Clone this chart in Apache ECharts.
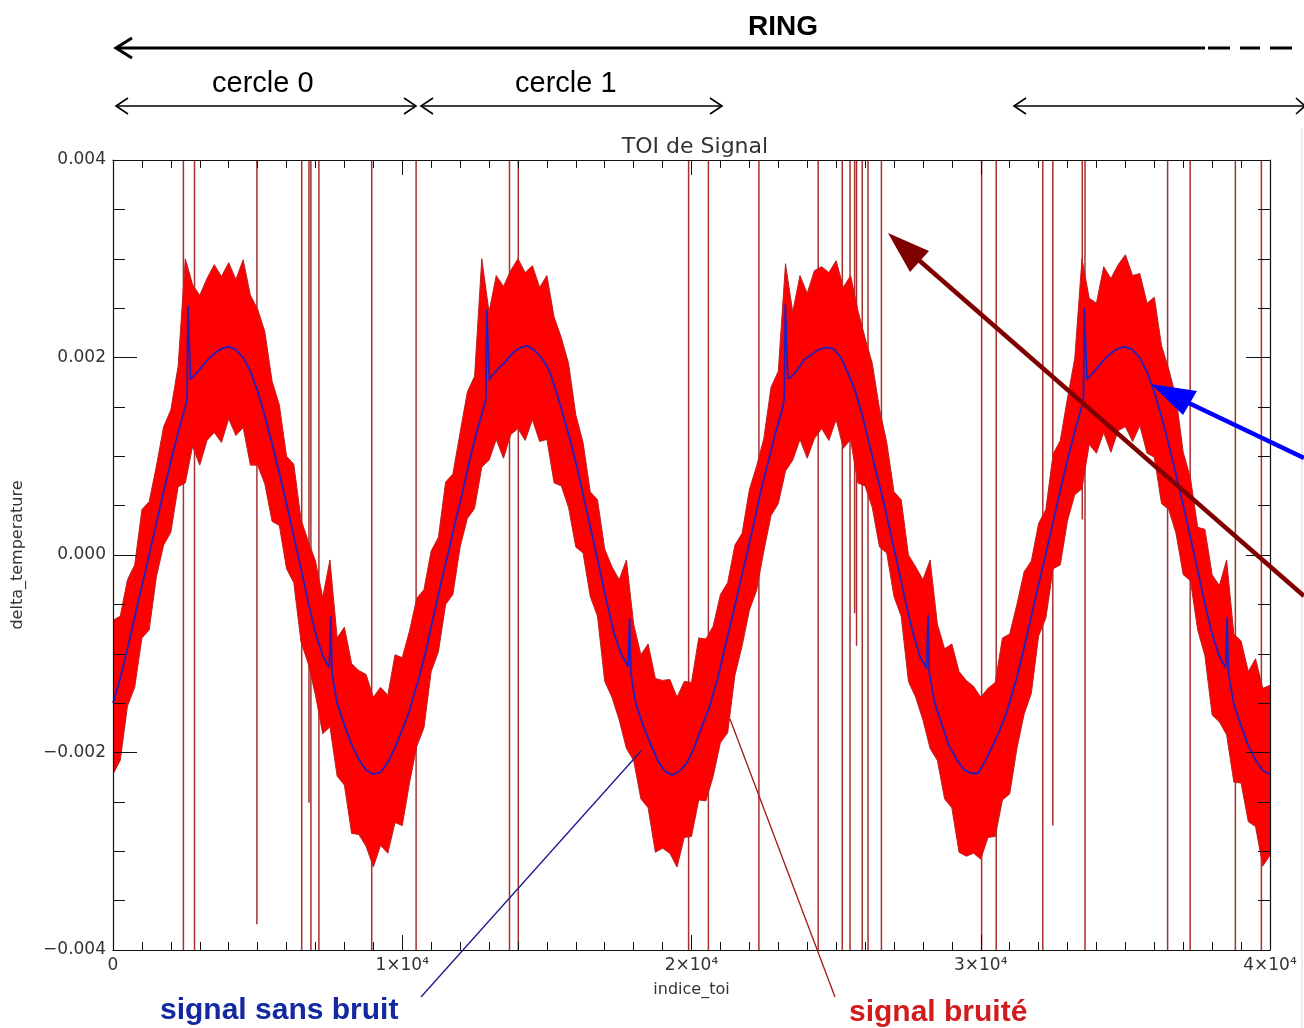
<!DOCTYPE html>
<html>
<head>
<meta charset="utf-8">
<script src="https://cdn.jsdelivr.net/npm/echarts@6/dist/echarts.min.js"></script>
<style>
html,body{margin:0;padding:0;background:#fff;}
#chart{width:1304px;height:1028px;}
</style>
</head>
<body>
<div id="chart"></div>
<script>
// ---------------- data ----------------
const xTickLabels = ['0', '1×10⁴', '2×10⁴', '3×10⁴', '4×10⁴'];
const yTickLabels = ['−0.004', '−0.002', '0.000', '0.002', '0.004'];

// clean signal (signal sans bruit): sample index and value
const cleanIdx = [
  0,250,500,750,1000,1250,1500,1750,2000,2250,2500,2560,2593,2625,2680,2750,3000,3250,3500,3750,4000,4250,4500,4750,5000,5250,5500,5750,6000,6250,6500,6750,7000,7250,7480,7530,7570,7620,7750,8000,8250,8500,8750,9000,9250,9500,9750,10000,10250,
  10330,10580,10830,11080,11330,11580,11830,12080,12330,12580,12830,12890,12923,12955,13010,13080,13330,13580,13830,14080,14330,14580,14830,15080,15330,15580,15830,16080,16330,16580,16830,17080,17330,17580,17810,17860,17900,17950,18080,18330,18580,18830,19080,19330,19580,19830,20080,20330,20580,
  20650,20900,21150,21400,21650,21900,22150,22400,22650,22900,23150,23210,23243,23275,23330,23400,23650,23900,24150,24400,24650,24900,25150,25400,25650,25900,26150,26400,26650,26900,27150,27400,27650,27900,28130,28180,28220,28270,28400,28650,28900,29150,29400,29650,29900,30150,30400,30650,30900,
  30990,31240,31490,31740,31990,32240,32490,32740,32990,33240,33490,33550,33583,33615,33670,33740,33990,34240,34490,34740,34990,35240,35490,35740,35990,36240,36490,36740,36990,37240,37490,37740,37990,38240,38470,38520,38560,38610,38740,38990,39240,39490,39740,39990,40000
];
const cleanVal = [
  -0.00150,-0.00125,-0.00095,-0.00063,-0.00031,0.00000,0.00032,0.00064,0.00095,0.00124,0.00150,0.00158,0.00252,0.00225,0.00178,0.00180,0.00188,0.00197,0.00204,0.00209,0.00211,0.00208,0.00200,0.00186,0.00166,0.00141,0.00113,0.00083,0.00052,0.00019,-0.00014,-0.00048,-0.00079,-0.00102,-0.00114,-0.00062,-0.00118,-0.00128,-0.00150,-0.00172,-0.00192,-0.00207,-0.00218,-0.00222,-0.00220,-0.00210,-0.00195,-0.00177,-0.00158,
  -0.00149,-0.00124,-0.00096,-0.00062,-0.00030,0.00001,0.00033,0.00063,0.00096,0.00125,0.00151,0.00157,0.00248,0.00222,0.00177,0.00181,0.00189,0.00196,0.00205,0.00210,0.00212,0.00207,0.00199,0.00187,0.00165,0.00140,0.00114,0.00084,0.00051,0.00018,-0.00015,-0.00049,-0.00080,-0.00101,-0.00113,-0.00064,-0.00117,-0.00129,-0.00151,-0.00173,-0.00191,-0.00208,-0.00219,-0.00223,-0.00219,-0.00211,-0.00196,-0.00176,-0.00157,
  -0.00151,-0.00126,-0.00094,-0.00064,-0.00032,-0.00001,0.00031,0.00065,0.00094,0.00123,0.00149,0.00159,0.00254,0.00224,0.00179,0.00179,0.00187,0.00198,0.00203,0.00208,0.00210,0.00209,0.00201,0.00185,0.00167,0.00142,0.00112,0.00082,0.00053,0.00020,-0.00013,-0.00047,-0.00078,-0.00103,-0.00115,-0.00061,-0.00119,-0.00127,-0.00149,-0.00171,-0.00193,-0.00206,-0.00217,-0.00221,-0.00221,-0.00209,-0.00194,-0.00178,-0.00159,
  -0.00150,-0.00125,-0.00095,-0.00063,-0.00031,0.00000,0.00032,0.00064,0.00095,0.00124,0.00150,0.00158,0.00250,0.00224,0.00178,0.00180,0.00188,0.00197,0.00204,0.00209,0.00211,0.00208,0.00200,0.00186,0.00166,0.00141,0.00113,0.00083,0.00052,0.00019,-0.00014,-0.00048,-0.00079,-0.00102,-0.00114,-0.00063,-0.00118,-0.00128,-0.00150,-0.00172,-0.00192,-0.00207,-0.00218,-0.00222,-0.00222
];

// noisy signal (signal bruité): envelope of the dense noise, one sample every 250 indices
const noisyStep = 250;
const noisyMax = [
  -0.00066,-0.00062,-0.00025,-0.00010,0.00046,0.00054,0.00090,0.00130,0.00147,0.00191,
  0.00300,0.00274,0.00263,0.00280,0.00294,0.00282,0.00296,0.00279,0.00299,0.00263,
  0.00249,0.00226,0.00176,0.00152,0.00100,0.00092,0.00036,0.00014,-0.00006,-0.00043,
  -0.00005,-0.00084,-0.00073,-0.00110,-0.00117,-0.00121,-0.00144,-0.00134,-0.00142,-0.00101,
  -0.00104,-0.00077,-0.00044,-0.00035,0.00004,0.00018,0.00074,0.00082,0.00124,0.00165,
  0.00181,0.00300,0.00246,0.00283,0.00272,0.00288,0.00300,0.00286,0.00293,0.00271,
  0.00283,0.00241,0.00220,0.00194,0.00142,0.00114,0.00064,0.00056,0.00006,-0.00012,
  -0.00025,-0.00005,-0.00070,-0.00101,-0.00090,-0.00125,-0.00127,-0.00126,-0.00144,-0.00128,
  -0.00129,-0.00084,-0.00085,-0.00072,-0.00040,-0.00028,0.00010,0.00022,0.00066,0.00090,
  0.00118,0.00170,0.00186,0.00295,0.00246,0.00283,0.00265,0.00288,0.00292,0.00286,
  0.00298,0.00271,0.00283,0.00248,0.00220,0.00194,0.00148,0.00114,0.00064,0.00056,
  0.00000,-0.00012,-0.00025,-0.00005,-0.00070,-0.00095,-0.00090,-0.00118,-0.00127,-0.00133,
  -0.00144,-0.00135,-0.00129,-0.00084,-0.00080,-0.00050,-0.00017,-0.00006,0.00032,0.00046,
  0.00102,0.00116,0.00159,0.00199,0.00300,0.00260,0.00255,0.00292,0.00280,0.00294,
  0.00304,0.00283,0.00285,0.00255,0.00261,0.00212,0.00188,0.00160,0.00104,0.00078,
  0.00028,0.00026,-0.00020,-0.00031,-0.00005,-0.00080,-0.00087,-0.00118,-0.00105,-0.00135,
  -0.00132
];
const noisyMin = [
  -0.00222,-0.00208,-0.00153,-0.00134,-0.00084,-0.00076,-0.00022,0.00010,0.00023,0.00069,
  0.00073,0.00110,0.00091,0.00116,0.00124,0.00114,0.00138,0.00121,0.00129,0.00091,
  0.00091,0.00072,0.00034,0.00030,-0.00014,-0.00028,-0.00088,-0.00110,-0.00142,-0.00181,
  -0.00174,-0.00224,-0.00233,-0.00282,-0.00283,-0.00295,-0.00316,-0.00294,-0.00302,-0.00271,
  -0.00274,-0.00231,-0.00194,-0.00175,-0.00118,-0.00098,-0.00050,-0.00040,0.00008,0.00037,
  0.00047,0.00089,0.00096,0.00117,0.00098,0.00122,0.00128,0.00116,0.00137,0.00115,
  0.00117,0.00073,0.00070,0.00048,0.00008,0.00002,-0.00042,-0.00062,-0.00128,-0.00144,
  -0.00167,-0.00196,-0.00208,-0.00247,-0.00256,-0.00301,-0.00297,-0.00302,-0.00316,-0.00286,
  -0.00285,-0.00248,-0.00249,-0.00224,-0.00190,-0.00180,-0.00122,-0.00092,-0.00056,-0.00036,
  0.00004,0.00040,0.00052,0.00085,0.00096,0.00117,0.00098,0.00118,0.00128,0.00116,
  0.00137,0.00108,0.00117,0.00073,0.00070,0.00048,0.00008,0.00002,-0.00042,-0.00062,
  -0.00128,-0.00144,-0.00167,-0.00196,-0.00208,-0.00247,-0.00256,-0.00301,-0.00305,-0.00302,
  -0.00308,-0.00286,-0.00285,-0.00248,-0.00242,-0.00196,-0.00161,-0.00140,-0.00082,-0.00064,
  -0.00014,-0.00010,0.00035,0.00061,0.00067,0.00112,0.00103,0.00124,0.00104,0.00126,
  0.00130,0.00115,0.00131,0.00103,0.00099,0.00052,0.00046,0.00022,-0.00020,-0.00026,
  -0.00076,-0.00102,-0.00162,-0.00169,-0.00182,-0.00230,-0.00231,-0.00270,-0.00275,-0.00315,
  -0.00304
];

// glitches (vertical spikes): index, top value, bottom value
const spikeIdx = [2434,2818,4975,6524,6776,6842,7118,8944,10479,13708,14012,19900,20584,22330,24380,25213,25480,25640,25706,25903,26103,26566,30030,30535,32145,32491,33510,33604,36460,37240,38803,39702];
const spikeTop = [0.004,0.004,0.004,0.004,0.004,0.004,0.004,0.004,0.004,0.004,0.004,0.004,0.004,0.004,0.004,0.004,0.004,0.004,0.004,0.004,0.004,0.004,0.004,0.004,0.004,0.004,0.004,0.004,0.004,0.004,0.004,0.004];
const spikeBottom = [-0.004,-0.004,-0.00374,-0.004,-0.00251,-0.004,-0.004,-0.004,-0.004,-0.004,-0.004,-0.004,-0.004,-0.004,-0.004,-0.004,-0.004,-0.00059,-0.00092,-0.004,-0.004,-0.004,-0.004,-0.004,-0.004,-0.00274,0.00036,-0.004,-0.004,-0.004,-0.004,-0.004];

// ---------------- chart ----------------
const chart = echarts.init(document.getElementById('chart'), null, {renderer: 'canvas'});

const cleanData = cleanIdx.map((x, i) => [x, cleanVal[i]]);
const spikeData = spikeIdx.map((x, i) => [x, spikeTop[i], spikeBottom[i]]);

const labelFont = {fontFamily: 'DejaVu Sans', fontSize: 17, color: '#333'};

function xLabel(v) { return xTickLabels[Math.round(v / 10000)]; }
function yLabel(v) { return yTickLabels[Math.round(v / 0.002) + 2]; }

const axisBase = {
  type: 'value',
  z: 10,
  axisLine: {show: true, onZero: false, lineStyle: {color: '#111', width: 1.2}},
  splitLine: {show: false},
};

const option = {
  backgroundColor: '#fff',
  animation: false,
  title: {
    text: 'TOI de Signal',
    left: 690, top: 131, textAlign: 'center',
    textStyle: {fontFamily: 'DejaVu Sans', fontSize: 22, fontWeight: 'normal', color: '#333'}
  },
  grid: {left: 113, right: 34, top: 160, bottom: 78, containLabel: false},
  xAxis: [
    Object.assign({}, axisBase, {
      position: 'bottom', min: 0, max: 40000, interval: 10000,
      name: 'indice_toi', nameLocation: 'middle', nameGap: 32,
      nameTextStyle: {fontFamily: 'DejaVu Sans', fontSize: 16, color: '#333'},
      axisTick: {show: true, inside: true, length: 15, lineStyle: {color: '#111'}},
      minorTick: {show: true, splitNumber: 10, length: 8, lineStyle: {color: '#111'}},
      axisLabel: Object.assign({margin: 7, formatter: xLabel}, labelFont)
    }),
    Object.assign({}, axisBase, {
      position: 'top', min: 0, max: 40000, interval: 10000,
      axisTick: {show: true, inside: true, length: 15, lineStyle: {color: '#111'}},
      minorTick: {show: true, splitNumber: 10, length: 8, lineStyle: {color: '#111'}},
      axisLabel: {show: false}
    })
  ],
  yAxis: [
    Object.assign({}, axisBase, {
      position: 'left', min: -0.004, max: 0.004, interval: 0.002,
      name: 'delta_temperature', nameLocation: 'middle', nameGap: 87, nameRotate: 90,
      nameTextStyle: {fontFamily: 'DejaVu Sans', fontSize: 16, color: '#333'},
      axisTick: {show: true, inside: true, length: 24, lineStyle: {color: '#111'}},
      minorTick: {show: true, splitNumber: 4, length: 12, lineStyle: {color: '#111'}},
      axisLabel: Object.assign({margin: 7, formatter: yLabel}, labelFont)
    }),
    Object.assign({}, axisBase, {
      position: 'right', min: -0.004, max: 0.004, interval: 0.002,
      axisTick: {show: true, inside: true, length: 24, lineStyle: {color: '#111'}},
      minorTick: {show: true, splitNumber: 4, length: 12, lineStyle: {color: '#111'}},
      axisLabel: {show: false}
    })
  ],
  series: [
    {
      name: 'glitches',
      type: 'custom',
      clip: true,
      z: 1,
      data: spikeData,
      renderItem: function (params, api) {
        const p1 = api.coord([api.value(0), api.value(1)]);
        const p2 = api.coord([api.value(0), api.value(2)]);
        return {
          type: 'line',
          shape: {x1: p1[0], y1: p1[1], x2: p2[0], y2: p2[1]},
          style: {stroke: '#a83030', lineWidth: 1.5}
        };
      }
    },
    {
      name: 'signal bruité',
      type: 'custom',
      clip: true,
      z: 2,
      data: [[0, 0]],
      renderItem: function (params, api) {
        const pts = [];
        for (let i = 0; i < noisyMax.length; i++) pts.push(api.coord([i * noisyStep, noisyMax[i]]));
        for (let i = noisyMin.length - 1; i >= 0; i--) pts.push(api.coord([i * noisyStep, noisyMin[i]]));
        return {
          type: 'polygon',
          shape: {points: pts},
          style: {fill: '#ff0000', stroke: '#b82424', lineWidth: 1}
        };
      }
    },
    {
      name: 'signal sans bruit',
      type: 'line',
      z: 3,
      data: cleanData,
      showSymbol: false,
      lineStyle: {color: '#2020c0', width: 1.8},
      silent: true
    }
  ],
  graphic: [
    // RING arrow
    {type: 'text', left: 748, top: 13, style: {text: 'RING', font: 'bold 28px "Liberation Sans", Arial', fill: '#000'}},
    {type: 'line', shape: {x1: 116, y1: 48, x2: 1205, y2: 48}, style: {stroke: '#000', lineWidth: 3}},
    {type: 'polyline', shape: {points: [[132, 38], [116, 48], [132, 58]]}, style: {stroke: '#000', lineWidth: 3, fill: null}},
    {type: 'line', shape: {x1: 1208, y1: 48, x2: 1230, y2: 48}, style: {stroke: '#000', lineWidth: 3}},
    {type: 'line', shape: {x1: 1240, y1: 48, x2: 1260, y2: 48}, style: {stroke: '#000', lineWidth: 3}},
    {type: 'line', shape: {x1: 1270, y1: 48, x2: 1292, y2: 48}, style: {stroke: '#000', lineWidth: 3}},
    // cercle arrows
    {type: 'text', left: 212, top: 69, style: {text: 'cercle 0', font: '29px "Liberation Sans", Arial', fill: '#000'}},
    {type: 'text', left: 515, top: 69, style: {text: 'cercle 1', font: '29px "Liberation Sans", Arial', fill: '#000'}},
    {type: 'line', shape: {x1: 116, y1: 106, x2: 416, y2: 106}, style: {stroke: '#000', lineWidth: 1.6}},
    {type: 'polyline', shape: {points: [[128, 98], [116, 106], [128, 114]]}, style: {stroke: '#000', lineWidth: 1.6, fill: null}},
    {type: 'polyline', shape: {points: [[404, 98], [416, 106], [404, 114]]}, style: {stroke: '#000', lineWidth: 1.6, fill: null}},
    {type: 'line', shape: {x1: 421, y1: 106, x2: 722, y2: 106}, style: {stroke: '#000', lineWidth: 1.6}},
    {type: 'polyline', shape: {points: [[433, 98], [421, 106], [433, 114]]}, style: {stroke: '#000', lineWidth: 1.6, fill: null}},
    {type: 'polyline', shape: {points: [[710, 98], [722, 106], [710, 114]]}, style: {stroke: '#000', lineWidth: 1.6, fill: null}},
    {type: 'line', shape: {x1: 1014, y1: 106, x2: 1304, y2: 106}, style: {stroke: '#000', lineWidth: 1.6}},
    {type: 'polyline', shape: {points: [[1026, 98], [1014, 106], [1026, 114]]}, style: {stroke: '#000', lineWidth: 1.6, fill: null}},
    {type: 'polyline', shape: {points: [[1296, 98], [1305, 106], [1296, 114]]}, style: {stroke: '#000', lineWidth: 1.6, fill: null}},
    // right border
    {type: 'line', shape: {x1: 1302, y1: 128, x2: 1302, y2: 1028}, style: {stroke: '#d8d8d8', lineWidth: 1}},
    // big dark red arrow
    {type: 'line', z: 20, shape: {x1: 1304, y1: 596, x2: 905, y2: 248}, style: {stroke: '#800000', lineWidth: 4.5}},
    {type: 'polygon', z: 20, shape: {points: [[888, 233], [910, 272], [929, 251]]}, style: {fill: '#800000'}},
    // big blue arrow
    {type: 'line', z: 20, shape: {x1: 1304, y1: 458, x2: 1172, y2: 395}, style: {stroke: '#0000ff', lineWidth: 4.5}},
    {type: 'polygon', z: 20, shape: {points: [[1151, 384], [1183, 415], [1197, 391]]}, style: {fill: '#0000ff'}},
    // pointer lines
    {type: 'line', z: 20, shape: {x1: 421, y1: 997, x2: 641, y2: 751}, style: {stroke: '#1a1a90', lineWidth: 1.3}},
    {type: 'line', z: 20, shape: {x1: 835, y1: 997, x2: 730, y2: 719}, style: {stroke: '#a01818', lineWidth: 1.3}},
    {type: 'text', left: 160, top: 996, style: {text: 'signal sans bruit', font: 'bold 30px "Liberation Sans", Arial', fill: '#1428a0'}},
    {type: 'text', left: 849, top: 998, style: {text: 'signal bruité', font: 'bold 30px "Liberation Sans", Arial', fill: '#d01c1c'}}
  ]
};

chart.setOption(option);
</script>
</body>
</html>
